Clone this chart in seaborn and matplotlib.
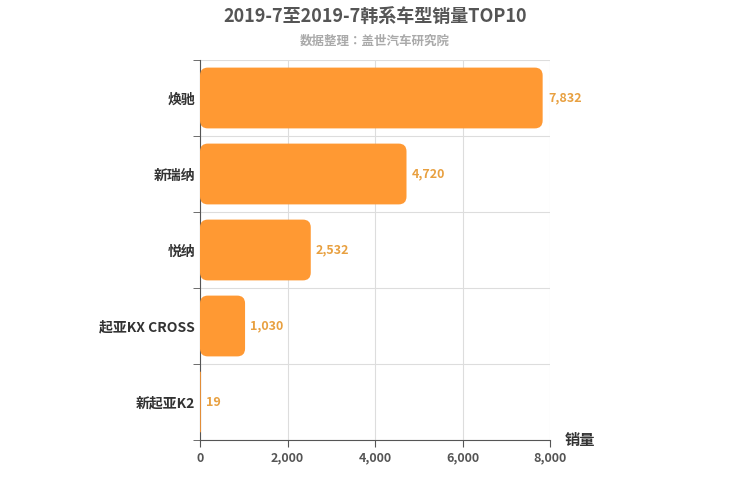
import matplotlib
matplotlib.use('Agg')
import matplotlib.pyplot as plt
from matplotlib.patches import FancyBboxPatch
import numpy as np
import pandas as pd
import seaborn as sns

models = ['焕驰', '新瑞纳', '悦纳', '起亚KX CROSS', '新起亚K2']
sales = [7832, 4720, 2532, 1030, 19]

plt.rcParams['font.family'] = 'sans-serif'
plt.rcParams['font.sans-serif'] = ['Noto Sans CJK SC', 'Noto Sans CJK JP', 'Noto Sans CJK TC',
                                   'Noto Sans CJK KR', 'DejaVu Sans']
fig = plt.figure(figsize=(7.5, 5), dpi=100)
ax = fig.add_axes([200 / 750, 0.12, 350 / 750, 0.76])

df = pd.DataFrame({'model': models, 'sales': sales})
sns.barplot(data=df, x='sales', y='model', ax=ax, color='#FF9933', width=0.8, saturation=1)

# swap plain bars for rounded ones
aspect = (5 / 380) / (8000 / 350)
for p in list(ax.patches):
    x, y, w, h = p.get_x(), p.get_y(), p.get_width(), p.get_height()
    p.set_visible(False)
    r = min(180, w / 2)
    ax.add_patch(FancyBboxPatch((x + r, y + r * aspect), max(w - 2 * r, 0), h - 2 * r * aspect,
                                boxstyle=f'round,pad={r}', mutation_aspect=aspect,
                                fc='#FF9933', ec='none', zorder=3))

for i, v in enumerate(sales):
    ax.text(v + 120, i, f'{v:,}', va='center', ha='left', fontsize=9,
            fontweight='bold', color='#E8A040')

ax.set_xlim(0, 8000)
ax.set_ylim(4.5, -0.5)
ax.set_xticks(np.arange(0, 8001, 2000))
ax.set_xticklabels([f'{t:,}' for t in range(0, 8001, 2000)], fontweight='bold')
ax.set_yticks(range(len(models)))
ax.set_yticklabels(models, fontweight='bold')
ax.set_yticks(np.arange(-0.5, 5, 1), minor=True)
ax.tick_params(axis='y', which='major', length=0, labelsize=10, colors='#333333')
ax.tick_params(axis='y', which='minor', length=5, color='#555555')
ax.tick_params(axis='x', labelsize=9, colors='#555555', length=5)
ax.grid(axis='x', color='#dddddd', lw=0.8)
ax.grid(axis='y', which='minor', color='#dddddd', lw=0.8)
ax.set_axisbelow(True)
for s in ['top', 'right']:
    ax.spines[s].set_visible(False)
ax.spines['left'].set_color('#555555')
ax.spines['bottom'].set_color('#555555')
ax.set_ylabel('')
ax.set_xlabel('')

fig.text(580 / 750, 1 - 440 / 500, '销量', ha='center', va='center', fontsize=11,
         fontweight='bold', color='#333333')
fig.text(0.5, 1 - 16 / 500, '2019-7至2019-7韩系车型销量TOP10', ha='center', va='center',
         fontsize=13, fontweight='bold', color='#555555')
fig.text(0.5, 1 - 41 / 500, '数据整理：盖世汽车研究院', ha='center', va='center',
         fontsize=9, fontweight='bold', color='#aaaaaa')

fig.savefig('out.png', dpi=100)
